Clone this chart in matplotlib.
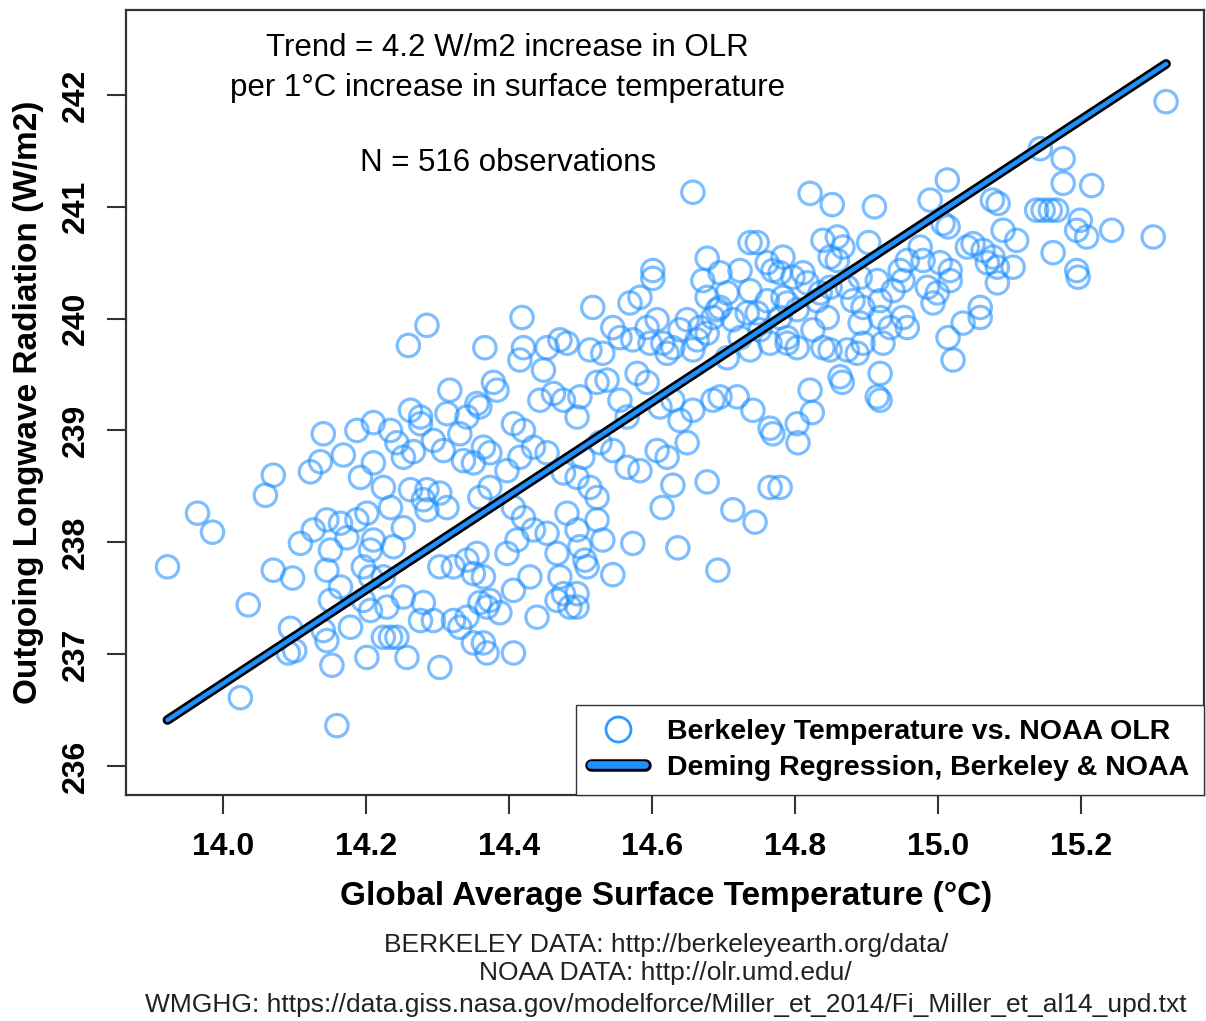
import matplotlib
matplotlib.use("Agg")
import matplotlib.pyplot as plt
from matplotlib.lines import Line2D
from matplotlib.legend_handler import HandlerTuple

plt.rcParams['font.family'] = ['Liberation Sans', 'DejaVu Sans']

# Berkeley global average surface temperature (deg C)
temp_c = [
    13.922, 13.964, 13.985, 14.035, 14.024, 14.070, 14.059, 14.070, 14.097, 14.094,
    14.091, 14.100, 14.159, 14.152, 14.145, 14.140, 14.178, 14.150, 14.164, 14.145,
    14.196, 14.206, 14.201, 14.257, 14.224, 14.234, 14.243, 14.206, 14.229, 14.252,
    14.276, 14.280, 14.108, 14.150, 14.206, 14.238, 14.140, 14.122, 14.136, 14.168,
    14.187, 14.210, 14.234, 14.192, 14.210, 14.243, 14.252, 14.266, 14.276, 14.276,
    14.294, 14.308, 14.317, 14.313, 14.341, 14.355, 14.336, 14.350, 14.364, 14.224,
    14.262, 14.285, 14.303, 14.313, 14.285, 14.359, 14.126, 14.145, 14.164, 14.173,
    14.201, 14.210, 14.234, 14.252, 14.280, 14.224, 14.196, 14.294, 14.322, 14.331,
    14.303, 14.350, 14.369, 14.303, 14.322, 14.341, 14.355, 14.350, 14.364, 14.359,
    14.369, 14.341, 14.331, 14.259, 14.285, 14.262, 14.187,
    # centre of the cloud
    14.418, 14.517, 14.569, 14.366, 14.420, 14.415, 14.448, 14.471, 14.481, 14.453,
    14.513, 14.531, 14.545, 14.555, 14.573, 14.593, 14.607, 14.615, 14.621, 14.639,
    14.649, 14.663, 14.677, 14.685, 14.695, 14.713, 14.733, 14.751, 14.765, 14.789,
    14.803, 14.825, 14.839, 14.821, 14.824, 14.765, 14.803, 14.804, 14.741, 14.769,
    14.719, 14.695, 14.649, 14.677, 14.765, 14.779, 14.614, 14.629, 14.713, 14.744,
    14.636, 14.573, 14.692, 14.545, 14.506, 14.378, 14.383, 14.359, 14.406, 14.420,
    14.443, 14.462, 14.476, 14.495, 14.499, 14.523, 14.537, 14.555, 14.565, 14.579,
    14.593, 14.611, 14.629, 14.639, 14.657, 14.685, 14.607, 14.621, 14.583, 14.565,
    14.545, 14.527, 14.503, 14.495, 14.513, 14.523, 14.476, 14.453, 14.434, 14.415,
    14.397, 14.373, 14.373, 14.406, 14.420, 14.434, 14.453, 14.411, 14.397, 14.481,
    14.495, 14.467, 14.499, 14.531, 14.523, 14.509, 14.471, 14.495, 14.429, 14.406,
    14.373, 14.387, 14.439, 14.467, 14.485, 14.406, 14.476, 14.364, 14.495,
    # upper centre
    14.657, 14.821, 14.852, 14.737, 14.747, 14.677, 14.783, 14.601, 14.601, 14.839,
    14.859, 14.849, 14.671, 14.695, 14.723, 14.761, 14.769, 14.797, 14.817, 14.677,
    14.705, 14.737, 14.761, 14.783, 14.691, 14.747, 14.779, 14.803, 14.667, 14.597,
    14.629, 14.657, 14.723, 14.705, 14.737, 14.789, 14.845, 14.831, 14.849, 14.583,
    # upper right
    14.911, 15.013, 14.989, 15.076, 15.084, 14.867, 14.903, 14.859, 14.779, 14.811,
    14.789, 14.835, 14.873, 14.891, 14.881, 14.895, 14.915, 14.919, 14.937, 14.947,
    14.957, 14.951, 14.975, 14.979, 14.985, 14.999, 14.993, 15.003, 15.017, 15.017,
    15.007, 15.014, 14.951, 14.957, 14.933, 14.919, 14.891, 14.895, 14.849, 14.873,
    14.887, 14.923, 14.863, 14.919, 14.915, 14.919, 15.021, 15.014, 15.035, 15.059,
    15.059, 15.041, 15.049, 15.063, 15.077, 15.069, 15.083, 15.091, 15.110, 15.105,
    15.083, 15.138, 15.147, 15.157, 15.166, 15.175, 15.175, 15.215, 15.199, 15.194,
    15.208, 15.243, 15.301, 15.161, 15.194, 15.196, 15.143, 15.319, 14.866,
]

# NOAA outgoing longwave radiation (W/m2), same order
olr_wm2 = [
    237.78, 238.26, 238.09, 237.44, 236.61, 238.60, 238.42, 237.75, 237.68, 237.23,
    237.01, 237.03, 236.36, 236.90, 237.12, 237.21, 237.24, 237.48, 237.60, 237.75,
    237.78, 237.69, 236.97, 236.97, 237.15, 237.15, 237.15, 237.39, 237.42, 237.51,
    237.30, 237.46, 237.99, 237.93, 237.93, 237.96, 238.97, 238.63, 238.72, 238.78,
    239.00, 239.07, 239.00, 238.58, 238.71, 238.89, 238.76, 238.81, 239.12, 239.06,
    238.91, 238.82, 239.36, 239.15, 239.12, 239.24, 238.73, 238.71, 238.85, 238.49,
    238.47, 238.47, 238.44, 238.31, 238.29, 238.40, 238.11, 238.20, 238.17, 238.04,
    238.26, 238.02, 238.31, 238.13, 238.38, 237.69, 237.48, 237.30, 237.30, 237.24,
    236.88, 237.10, 237.01, 237.78, 237.78, 237.84, 237.90, 237.72, 237.69, 237.46,
    237.42, 237.33, 238.97, 239.76, 239.94, 239.18, 238.20,
    # centre of the cloud
    240.01, 240.10, 240.14, 239.74, 239.74, 239.63, 239.54, 239.81, 239.78, 239.74,
    239.72, 239.69, 239.92, 239.83, 239.81, 239.92, 239.99, 239.78, 239.69, 239.90,
    239.99, 239.81, 239.87, 240.01, 240.10, 239.99, 240.05, 239.90, 239.78, 239.78,
    239.74, 239.90, 239.74, 239.36, 239.16, 239.02, 239.06, 238.89, 239.18, 238.97,
    239.30, 239.30, 238.89, 238.54, 238.49, 238.49, 238.31, 238.51, 238.29, 238.18,
    237.95, 237.99, 237.75, 237.71, 237.84, 239.43, 239.36, 239.21, 239.06, 239.00,
    239.27, 239.33, 239.27, 239.12, 239.30, 239.43, 239.45, 239.27, 239.12, 239.51,
    239.43, 239.21, 239.27, 239.09, 239.18, 239.27, 238.82, 238.76, 238.64, 238.67,
    238.82, 238.89, 238.76, 238.58, 238.49, 238.40, 238.62, 238.80, 238.85, 238.76,
    238.64, 238.80, 238.49, 238.31, 238.22, 238.11, 238.08, 238.02, 237.90, 238.26,
    238.11, 237.90, 237.96, 238.02, 238.20, 237.78, 237.69, 237.54, 237.69, 237.57,
    237.48, 237.37, 237.33, 237.48, 237.42, 237.01, 237.54, 237.10, 237.42,
    # upper centre
    241.13, 241.12, 241.02, 240.68, 240.68, 240.54, 240.55, 240.43, 240.36, 240.70,
    240.73, 240.55, 240.34, 240.41, 240.43, 240.50, 240.43, 240.37, 240.32, 240.19,
    240.23, 240.25, 240.16, 240.19, 240.08, 240.05, 240.01, 240.08, 239.92, 239.78,
    239.74, 239.72, 239.83, 239.65, 239.72, 239.83, 240.01, 240.16, 240.28, 240.19,
    # upper right
    241.00, 241.24, 241.06, 241.06, 241.03, 240.64, 240.68, 240.52, 240.41, 240.41,
    240.14, 240.23, 240.28, 240.37, 240.16, 240.10, 240.34, 240.16, 240.25, 240.43,
    240.52, 240.34, 240.64, 240.52, 240.28, 240.23, 240.14, 240.50, 240.43, 240.34,
    240.85, 240.82, 240.01, 239.92, 239.92, 240.01, 239.96, 239.78, 239.72, 239.72,
    239.69, 239.78, 239.48, 239.51, 239.30, 239.27, 239.63, 239.83, 239.96, 240.10,
    240.01, 240.64, 240.67, 240.61, 240.55, 240.50, 240.46, 240.79, 240.70, 240.46,
    240.32, 240.97, 240.97, 240.97, 240.97, 241.21, 241.43, 241.19, 240.88, 240.79,
    240.73, 240.79, 240.73, 240.59, 240.43, 240.37, 241.52, 241.94, 239.43,
]

# Deming regression: 4.2 W/m2 per deg C
deming_slope = 4.2
deming_intercept = 177.938

x_ticks = [14.0, 14.2, 14.4, 14.6, 14.8, 15.0, 15.2]
y_ticks = [236, 237, 238, 239, 240, 241, 242]

blue = '#1E90FF'

fig = plt.figure(figsize=(12.06, 10.21), dpi=100)
ax = fig.add_axes([0.1045, 0.2214, 0.8938, 0.7688])

ax.scatter(temp_c, olr_wm2, s=260, facecolors='none',
           edgecolors=(0.118, 0.565, 1.0, 0.58), linewidths=2.3, zorder=2)

x_line = [min(temp_c), max(temp_c)]
y_line = [deming_intercept + deming_slope * v for v in x_line]
ax.plot(x_line, y_line, color='black', lw=7, solid_capstyle='round', zorder=3)
ax.plot(x_line, y_line, color=blue, lw=3.2, solid_capstyle='round', zorder=4)

ax.set_xlim(13.864, 15.372)
ax.set_ylim(235.74, 242.76)
ax.set_xticks(x_ticks)
ax.set_xticklabels(['%.1f' % t for t in x_ticks], fontsize=23, fontweight='bold')
ax.set_yticks(y_ticks)
ax.set_yticklabels([str(t) for t in y_ticks], fontsize=23, fontweight='bold',
                   rotation=90, va='center')
ax.tick_params(axis='x', length=14, width=1.5, pad=13, color='#333333')
ax.tick_params(axis='y', length=14, width=1.5, pad=11, color='#333333')
for sp in ax.spines.values():
    sp.set_linewidth(1.6)
    sp.set_color('#333333')

ax.set_xlabel('Global Average Surface Temperature (°C)', fontsize=24, fontweight='bold')
ax.set_ylabel('Outgoing Longwave Radiation (W/m2)', fontsize=24, fontweight='bold')
ax.xaxis.set_label_coords(0.501, -0.110)
ax.yaxis.set_label_coords(-0.076, 0.50)

note_kw = dict(transform=ax.transAxes, ha='center', va='center', fontsize=22.5)
ax.text(0.354, 0.9516, 'Trend = 4.2 W/m2 increase in OLR', **note_kw)
ax.text(0.354, 0.9006, 'per 1°C increase in surface temperature', **note_kw)
ax.text(0.354, 0.805, 'N = 516 observations', **note_kw)

h_pts = Line2D([], [], marker='o', ls='none', markersize=18, markerfacecolor='none',
               markeredgecolor='#3399FF', markeredgewidth=2)
h_outer = Line2D([], [], color='black', lw=9, solid_capstyle='round')
h_inner = Line2D([], [], color=blue, lw=5.5, solid_capstyle='round')
leg = ax.legend([h_pts, (h_outer, h_inner)],
                ['Berkeley Temperature vs. NOAA OLR', 'Deming Regression, Berkeley & NOAA'],
                handler_map={tuple: HandlerTuple(ndivide=1, pad=0)},
                loc='lower right', borderaxespad=0, fancybox=False, framealpha=1,
                prop={'weight': 'bold', 'size': 20.5}, handlelength=1.9,
                handletextpad=0.8, labelspacing=0.35, borderpad=0.5)
leg.get_frame().set_edgecolor('#333333')
leg.get_frame().set_linewidth(1.0)
leg.set_zorder(5)

src_kw = dict(ha='center', va='center', fontsize=19, color='#222222')
fig.text(0.552, 0.0744, 'BERKELEY DATA: http://berkeleyearth.org/data/', **src_kw)
fig.text(0.552, 0.047, 'NOAA DATA: http://olr.umd.edu/', **src_kw)
fig.text(0.552, 0.0157,
         'WMGHG: https://data.giss.nasa.gov/modelforce/Miller_et_2014/Fi_Miller_et_al14_upd.txt',
         **src_kw)

fig.savefig('out.png', dpi=100)
